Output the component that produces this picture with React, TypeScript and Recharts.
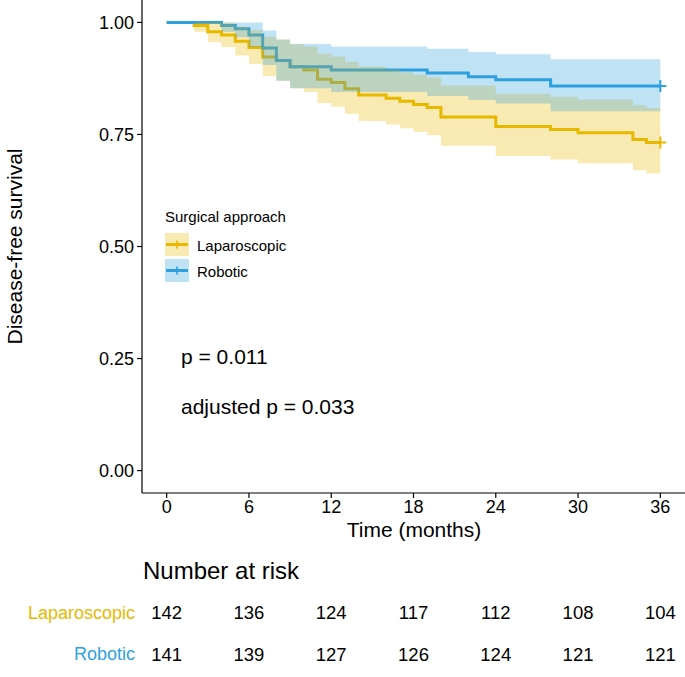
import React from 'react';
import { ComposedChart, Line, Area, XAxis, YAxis, Scatter } from 'recharts';

const FONT = "'Liberation Sans', Arial, Helvetica, sans-serif";
const LAP_COLOR = '#E7B800';
const ROB_COLOR = '#2E9FDF';

// Time grid (months); each value holds from that month until the next one
const months = [0,1,2,3,4,5,6,7,8,9,10,11,12,13,14,15,16,17,18,19,20,21,22,23,24,25,26,27,28,29,30,31,32,33,34,35,36];

// Laparoscopic survival + 95% CI
const lapSurv = [1,1,0.993,0.979,0.972,0.958,0.944,0.923,0.915,0.901,0.894,0.873,0.866,0.852,0.838,0.838,0.831,0.824,0.817,0.810,0.789,0.789,0.789,0.789,0.768,0.768,0.768,0.768,0.761,0.761,0.754,0.754,0.754,0.754,0.739,0.732,0.732];
const lapLower = [1,1,0.979,0.956,0.945,0.926,0.907,0.880,0.870,0.853,0.845,0.820,0.812,0.796,0.780,0.780,0.772,0.764,0.756,0.748,0.725,0.725,0.725,0.725,0.702,0.702,0.702,0.702,0.694,0.694,0.686,0.686,0.686,0.686,0.670,0.663,0.663];
const lapUpper = [1,1,1,1,0.999,0.991,0.983,0.968,0.962,0.951,0.946,0.930,0.924,0.912,0.901,0.901,0.895,0.889,0.883,0.877,0.859,0.859,0.859,0.859,0.841,0.841,0.841,0.841,0.834,0.834,0.828,0.828,0.828,0.828,0.815,0.809,0.809];

// Robotic survival + 95% CI
const robSurv = [1,1,1,1,0.993,0.986,0.972,0.943,0.915,0.901,0.901,0.901,0.894,0.894,0.894,0.894,0.894,0.894,0.894,0.887,0.887,0.887,0.879,0.879,0.872,0.872,0.872,0.872,0.858,0.858,0.858,0.858,0.858,0.858,0.858,0.858,0.858];
const robLower = [1,1,1,1,0.979,0.967,0.945,0.905,0.870,0.853,0.853,0.853,0.845,0.845,0.845,0.845,0.845,0.845,0.845,0.836,0.836,0.836,0.827,0.827,0.819,0.819,0.819,0.819,0.802,0.802,0.802,0.802,0.802,0.802,0.802,0.802,0.802];
const robUpper = [1,1,1,1,1,1,1,0.982,0.962,0.952,0.952,0.952,0.946,0.946,0.946,0.946,0.946,0.946,0.946,0.941,0.941,0.941,0.934,0.934,0.929,0.929,0.929,0.929,0.918,0.918,0.918,0.918,0.918,0.918,0.918,0.918,0.918];

const xTicks = [0, 6, 12, 18, 24, 30, 36];
const yTicks = [0, 0.25, 0.5, 0.75, 1];

// Number at risk
const riskTimes = [0, 6, 12, 18, 24, 30, 36];
const lapRisk = [142, 136, 124, 117, 112, 108, 104];
const robRisk = [141, 139, 127, 126, 124, 121, 121];
const groupNames = ['Laparoscopic', 'Robotic'];

const survData = months.map((t, i) => ({
  t,
  lap: lapSurv[i],
  rob: robSurv[i],
  lapBand: [lapLower[i], lapUpper[i]],
  robBand: [robLower[i], robUpper[i]],
}));

const lapRows = riskTimes.map((t, i) => ({ t, row: 1.5, n: lapRisk[i] }));
const robRows = riskTimes.map((t, i) => ({ t, row: 0.5, n: robRisk[i] }));

const censorDot = (color: string) => (props: any) => {
  const { cx, cy, index } = props;
  if (index !== months.length - 1 || cx == null || cy == null) return <g key={`n${index}`} />;
  return (
    <g key={`c${index}`}>
      <line x1={cx - 6} x2={cx + 6} y1={cy} y2={cy} stroke={color} strokeWidth={2} />
      <line x1={cx} x2={cx} y1={cy - 6} y2={cy + 6} stroke={color} strokeWidth={2} />
    </g>
  );
};

const riskLabel = (p: any) => (
  <text x={p.cx} y={p.cy} textAnchor="middle" dominantBaseline="central" fontSize={18.5} fontFamily={FONT} fill="#000">
    {p.payload.n}
  </text>
);

const riskTick = (p: any) => {
  const isLap = p.payload.value > 1;
  return (
    <text x={p.x} y={p.y} textAnchor="end" dominantBaseline="central" fontSize={18} fontFamily={FONT} fill={isLap ? LAP_COLOR : ROB_COLOR}>
      {isLap ? groupNames[0] : groupNames[1]}
    </text>
  );
};

export default function App() {
  const axisStroke = { stroke: '#000', strokeWidth: 1.2 };
  return (
    <div style={{ position: 'absolute', left: 0, top: 0, width: 685, height: 677, background: '#fff', fontFamily: FONT }}>
      <div style={{ position: 'absolute', left: 0, top: 0 }}>
        <ComposedChart width={685} height={545} data={survData} margin={{ top: 0, right: 0, left: 0, bottom: 0 }}>
          <XAxis
            type="number"
            dataKey="t"
            domain={[-1.8, 37.8]}
            ticks={xTicks}
            tickSize={5}
            tickMargin={2}
            axisLine={axisStroke}
            tickLine={axisStroke}
            tick={{ fill: '#000', fontSize: 18, fontFamily: FONT }}
            height={52}
          />
          <YAxis
            type="number"
            domain={[-0.05, 1.05]}
            ticks={yTicks}
            tickFormatter={(v: number) => v.toFixed(2)}
            tickSize={5}
            tickMargin={3}
            axisLine={axisStroke}
            tickLine={axisStroke}
            tick={{ fill: '#000', fontSize: 18, fontFamily: FONT }}
            width={142}
          />
          <Line type="stepAfter" dataKey="lap" stroke={LAP_COLOR} strokeWidth={3} dot={censorDot(LAP_COLOR)} activeDot={false} isAnimationActive={false} zIndex={400} />
          <Line type="stepAfter" dataKey="rob" stroke={ROB_COLOR} strokeWidth={3} dot={censorDot(ROB_COLOR)} activeDot={false} isAnimationActive={false} zIndex={401} />
          <Area type="stepAfter" dataKey="lapBand" fill={LAP_COLOR} fillOpacity={0.3} stroke="none" activeDot={false} isAnimationActive={false} zIndex={450} />
          <Area type="stepAfter" dataKey="robBand" fill={ROB_COLOR} fillOpacity={0.3} stroke="none" activeDot={false} isAnimationActive={false} zIndex={451} />
        </ComposedChart>
      </div>

      <div style={{ position: 'absolute', left: 0, top: 592 }}>
        <ComposedChart width={685} height={83} margin={{ top: 0, right: 0, left: 0, bottom: 0 }}>
          <XAxis hide type="number" dataKey="t" domain={[-1.8, 37.8]} />
          <YAxis
            type="number"
            dataKey="row"
            domain={[0, 2]}
            ticks={[0.5, 1.5]}
            width={142}
            axisLine={false}
            tickLine={false}
            tickSize={0}
            tickMargin={7}
            tick={riskTick}
          />
          <Scatter data={lapRows} dataKey="row" shape={riskLabel} isAnimationActive={false} />
          <Scatter data={robRows} dataKey="row" shape={riskLabel} isAnimationActive={false} />
        </ComposedChart>
      </div>

      <svg width={685} height={677} style={{ position: 'absolute', left: 0, top: 0, pointerEvents: 'none' }} fontFamily={FONT}>
        <text transform="translate(22, 246.5) rotate(-90)" textAnchor="middle" fontSize={21} fill="#000">Disease-free survival</text>
        <text x={414} y={536.5} textAnchor="middle" fontSize={21} fill="#000">Time (months)</text>

        <text x={165} y={222} fontSize={15} fill="#000">Surgical approach</text>
        <rect x={165} y={233} width={24} height={23} fill={LAP_COLOR} fillOpacity={0.3} />
        <line x1={166} x2={188} y1={244.5} y2={244.5} stroke={LAP_COLOR} strokeWidth={3} />
        <line x1={177} x2={177} y1={240.5} y2={248.5} stroke={LAP_COLOR} strokeWidth={1.6} />
        <text x={197} y={250.5} fontSize={15} fill="#000">Laparoscopic</text>
        <rect x={165} y={259} width={24} height={23} fill={ROB_COLOR} fillOpacity={0.3} />
        <line x1={166} x2={188} y1={270.5} y2={270.5} stroke={ROB_COLOR} strokeWidth={3} />
        <line x1={177} x2={177} y1={266.5} y2={274.5} stroke={ROB_COLOR} strokeWidth={1.6} />
        <text x={197} y={276.5} fontSize={15} fill="#000">Robotic</text>

        <text x={181} y={364} fontSize={21} fill="#000">p = 0.011</text>
        <text x={181} y={414} fontSize={21} fill="#000">adjusted p = 0.033</text>

        <text x={143} y={578.5} fontSize={24} fill="#000">Number at risk</text>
      </svg>
    </div>
  );
}
